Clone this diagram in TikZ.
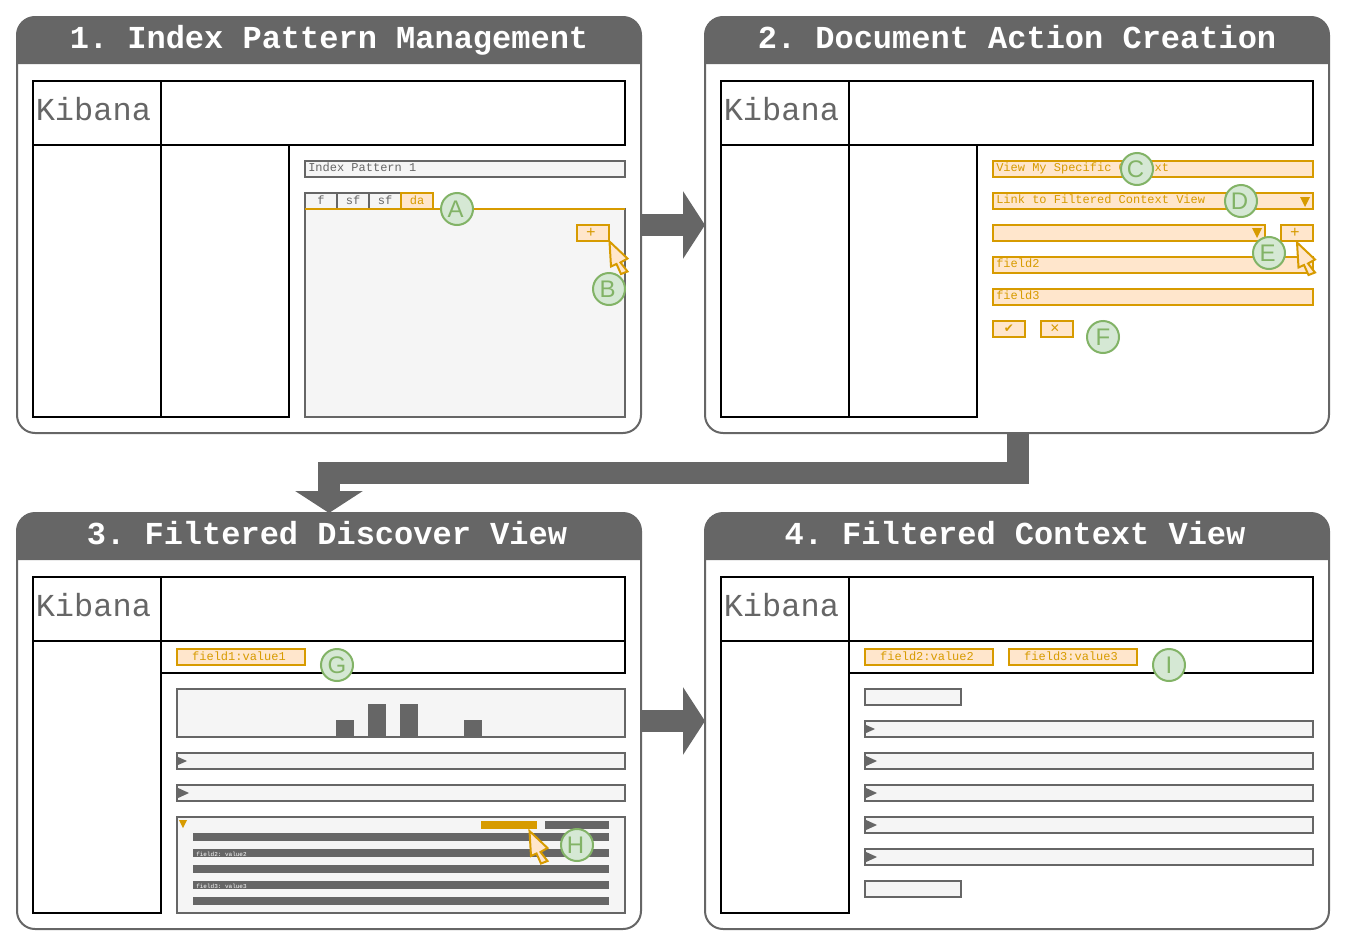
\documentclass[tikz,border=0pt]{standalone}
\usepackage{fontspec}
\setmonofont{Liberation Mono}
\setsansfont{Liberation Sans}
\newfontfamily\symfont{DejaVu Sans}
\usetikzlibrary{arrows.meta}
\definecolor{darkgray}{HTML}{666666}
\definecolor{panelgray}{HTML}{F5F5F5}
\definecolor{actfill}{HTML}{FFE6CC}
\definecolor{actline}{HTML}{D79B00}
\definecolor{markfill}{HTML}{D5E8D4}
\definecolor{markline}{HTML}{82B366}
\tikzset{
  x=0.75pt,y=-0.75pt,
  panel/.style={rectangle,draw=darkgray,line width=1.5pt,rounded corners=13.5pt,fill=white,outer sep=0pt,inner sep=0pt},
  title/.style={text=white,inner sep=0pt,anchor=base,font=\ttfamily\bfseries\fontsize{24}{28}\selectfont},
  frame/.style={rectangle,draw=black,line width=1.5pt,outer sep=0pt,inner sep=0pt},
  kibana/.style={text=darkgray,inner sep=0pt,anchor=base west,font=\ttfamily\fontsize{24}{28}\selectfont},
  greybox/.style={rectangle,draw=darkgray,fill=panelgray,line width=1.5pt,outer sep=0pt,inner sep=0pt,text=darkgray,text height=6pt,text depth=1.5pt,font=\ttfamily\fontsize{9}{10}\selectfont},
  actbox/.style={rectangle,draw=actline,fill=actfill,line width=1.5pt,outer sep=0pt,inner sep=0pt,text=actline,text height=6pt,text depth=1.5pt,font=\ttfamily\fontsize{9}{10}\selectfont},
  bar/.style={rectangle,fill=darkgray,outer sep=0pt,inner sep=0pt},
  boxtext/.style={inner sep=0pt,anchor=base west,font=\ttfamily\fontsize{9}{10}\selectfont},
  tinytext/.style={text=white,inner sep=0pt,anchor=west,font=\ttfamily\fontsize{4.5}{5}\selectfont},
  marker/.style={circle,draw=markline,fill=markfill,line width=1.5pt,minimum size=24pt,inner sep=0pt,text=markline,font=\sffamily\fontsize{18}{20}\selectfont},
  leftletter/.style={execute at begin node={\kern-2.25pt}},
  pointer/.style={draw=actline,fill=actfill,line width=1.5pt,miter limit=4},
  bigarrow/.style={draw=darkgray,line width=16.5pt,-{Triangle[length=16.5pt,width=50pt]}},
}
% box given by its two corners: name, style, x1, y1, x2, y2, text
\newcommand{\uibox}[7]{\node (#1) [#2,minimum width={(#5-#3)*0.75pt},minimum height={(#6-#4)*0.75pt}] at ({(#3+#5)/2},{(#4+#6)/2}) {#7};}
\newcommand{\mousecursor}[2]{\draw [pointer] (#1,#2)--++(18,17)--++(-7,4)--++(7,9)--++(-6.5,2.5)--++(-4.5,-10)--++(-5.5,2.5)--cycle;}
\newcommand{\playtip}[3]{\fill [darkgray] (#1,#2-#3/2-0.5)--(#1+#3+2,#2)--(#1,#2+#3/2+0.5)--cycle;}
\newcommand{\downtip}[3]{\fill [actline] (#1,#2)--(#1+#3,#2)--(#1+#3/2,#2+#3)--cycle;}
\newcommand{\plussign}{\kern-3pt\lower1pt\hbox{\fontsize{12}{12}\selectfont +}}
\begin{document}
\begin{tikzpicture}
\useasboundingbox (0,0) rectangle (1346,946);
% the four panels and what they have in common
\foreach \n/\px/\py/\tx/\t in {1/0/0/329/{1. Index Pattern Management},2/688/0/329/{2. Document Action Creation},3/0/496/327/{3. Filtered Discover View},4/688/496/327/{4. Filtered Context View}}{
\begin{scope}[shift={(\px,\py)}]
\uibox{panel\n}{panel}{17}{17}{641}{433}{}
\fill [darkgray] (17,64) [rounded corners=13.5pt] -- (17,17) -- (641,17) [sharp corners] -- (641,64) -- cycle;
\node (title\n) [title] at (\tx,48.5) {\t};
\uibox{brand\n}{frame}{33}{81}{161}{145}{}
\uibox{topbar\n}{frame}{161}{81}{625}{145}{}
\uibox{side\n}{frame}{33}{145}{161}{417}{}
\node (kib\n) [kibana] at (35.5,120) {Kibana};
\end{scope}
}
\uibox{nav1}{frame}{161}{145}{289}{417}{}
\uibox{nav2}{frame}{849}{145}{977}{417}{}
\uibox{filter3}{frame}{161}{641}{625}{673}{}
\uibox{filter4}{frame}{849}{641}{1313}{673}{}

% panel 1
\uibox{pattern}{greybox}{305}{161}{625}{177}{}
\node (patterntxt) [boxtext,text=darkgray] at (308,171.5) {Index Pattern 1};
\uibox{tabf}{greybox}{305}{193}{337}{209}{f}
\uibox{tabsfa}{greybox}{337}{193}{369}{209}{sf}
\uibox{tabsfb}{greybox}{369}{193}{401}{209}{sf}
\uibox{tabda}{actbox}{401}{193}{433}{209}{da}
\uibox{tabbody}{greybox}{305}{209}{625}{417}{}
\draw [actline,line width=1.5pt] (tabbody.north west)--(tabbody.north east);
\uibox{addfield}{actbox}{577}{225}{609}{241}{\plussign}
\mousecursor{609.5}{241.5}
\node (A) [marker,leftletter] at (457,209) {A};
\node (B) [marker,leftletter] at (609,289) {B};

% panel 2
\uibox{actname}{actbox}{993}{161}{1313}{177}{}
\node (actnametxt) [boxtext,text=actline] at (996,171.5) {View My Specific Context};
\uibox{acttype}{actbox}{993}{193}{1313}{209}{}
\node (acttypetxt) [boxtext,text=actline] at (996,203.5) {Link to Filtered Context View};
\downtip{1300}{197}{10}
\uibox{fieldpick}{actbox}{993}{225}{1265}{241}{}
\downtip{1252}{228}{10}
\uibox{addpick}{actbox}{1281}{225}{1313}{241}{\plussign}
\uibox{fieldb}{actbox}{993}{257}{1313}{273}{}
\node (fieldbtxt) [boxtext,text=actline] at (996,267.5) {field2};
\uibox{fieldc}{actbox}{993}{289}{1313}{305}{}
\node (fieldctxt) [boxtext,text=actline] at (996,299.5) {field3};
\uibox{okbtn}{actbox}{993}{321}{1025}{337}{\symfont ✔}
\uibox{nobtn}{actbox}{1041}{321}{1073}{337}{\kern-3pt\symfont ✕}
\mousecursor{1297}{242.5}
\node (C) [marker,leftletter] at (1137,169) {C};
\node (D) [marker,leftletter] at (1241,201) {D};
\node (E) [marker,leftletter] at (1269,253) {E};
\node (F) [marker] at (1103,337) {F};

% panel 3
\uibox{pill3}{actbox}{177}{649}{305}{665}{\kern-3pt field1:value1}
\node (G) [marker] at (337,665) {G};
\uibox{histo}{greybox}{177}{689}{625}{737}{}
\foreach \i/\a/\b in {1/336/720,2/368/704,3/400/704,4/464/720}{
\uibox{col\i}{bar}{\a}{\b}{\a+18}{736}{}
}
\uibox{doca}{greybox}{177}{753}{625}{769}{}
\playtip{177}{761}{8}
\uibox{docb}{greybox}{177}{785}{625}{801}{}
\playtip{177}{793}{10}
\uibox{docopen}{greybox}{177}{817}{625}{913}{}
\downtip{179}{820}{8}
\uibox{linkact}{bar,fill=actline}{481}{821}{537}{829}{}
\uibox{linkother}{bar}{545}{821}{609}{829}{}
\foreach \i/\b in {1/833,2/849,3/865,4/881,5/897}{
\uibox{line\i}{bar}{193}{\b}{609}{\b+8}{}
}
\node (linetxtb) [tinytext] at (196,854) {field2: value2};
\node (linetxtd) [tinytext] at (196,886) {field3: value3};
\mousecursor{529.5}{831}
\node (H) [marker,leftletter] at (577,845) {H};

% panel 4
\uibox{pill4a}{actbox}{865}{649}{993}{665}{\kern-3pt field2:value2}
\uibox{pill4b}{actbox}{1009}{649}{1137}{665}{\kern-3pt field3:value3}
\node (I) [marker] at (1169,665) {I};
\uibox{ctxtop}{greybox}{865}{689}{961}{705}{}
\foreach \i/\b/\s in {1/721/8,2/753/10,3/785/10,4/817/10,5/849/10}{
\uibox{ctx\i}{greybox}{865}{\b}{1313}{\b+16}{}
\playtip{865}{\b+8}{\s}
}
\uibox{ctxbot}{greybox}{865}{881}{961}{897}{}

% flow between the panels
\draw [bigarrow] (panel1.east)--(panel2.west);
\draw [bigarrow] (panel3.east)--(panel4.west);
\draw [bigarrow] ([xshift=0.75pt]panel2.south)--++(0,40)-|(panel3.north);
\end{tikzpicture}
\end{document}
